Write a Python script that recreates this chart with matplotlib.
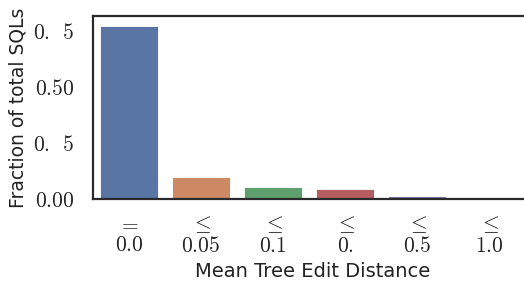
import matplotlib
matplotlib.use("Agg")
import matplotlib.pyplot as plt
import seaborn as sns

# bins of mean tree edit distance and their share of all SQLs
bins = ["$=$\n$0.0$", "$\\leq$\n$0.05$", "$\\leq$\n$0.1$",
        "$\\leq$\n$0.$", "$\\leq$\n$0.5$", "$\\leq$\n$1.0$"]
fractions = [0.772, 0.100, 0.054, 0.043, 0.012, 0.002]

ytick_vals = [0.0, 0.25, 0.5, 0.75]
ytick_labels = ["$0.00$", "$0.\\enspace5$", "$0.50$", "$0.\\enspace5$"]

sns.set_theme(style="white")
plt.rcParams["mathtext.fontset"] = "cm"
plt.rcParams["font.family"] = ["DejaVu Sans"]

fig = plt.figure(figsize=(5.24, 2.86), dpi=100)
ax = fig.add_axes([93 / 524, 1 - 199 / 286, 440 / 524, 183 / 286])

sns.barplot(x=list(range(len(bins))), y=fractions, hue=list(range(len(bins))),
            palette="deep", legend=False, ax=ax, edgecolor="white", linewidth=0.6)

ax.set_xlim(-0.5, 5.5 + 8 / 72)
ax.set_ylim(0, 0.817)
ax.set_xticks(range(len(bins)))
ax.set_xticklabels(bins, fontsize=15.5, linespacing=1.05)
ax.set_yticks(ytick_vals)
ax.set_yticklabels(ytick_labels, fontsize=15.5)
ax.tick_params(axis="y", length=0, pad=13)
ax.tick_params(axis="x", length=0, pad=11)

ax.set_xlabel("Mean Tree Edit Distance", fontsize=14, labelpad=4)
ax.set_ylabel("Fraction of total SQLs", fontsize=13.5, labelpad=4, color="#222222")
ax.xaxis.label.set_color("#222222")

for s in ax.spines.values():
    s.set_color("#2a2a2a")
    s.set_linewidth(1.6)

fig.savefig("out.png", dpi=100)
